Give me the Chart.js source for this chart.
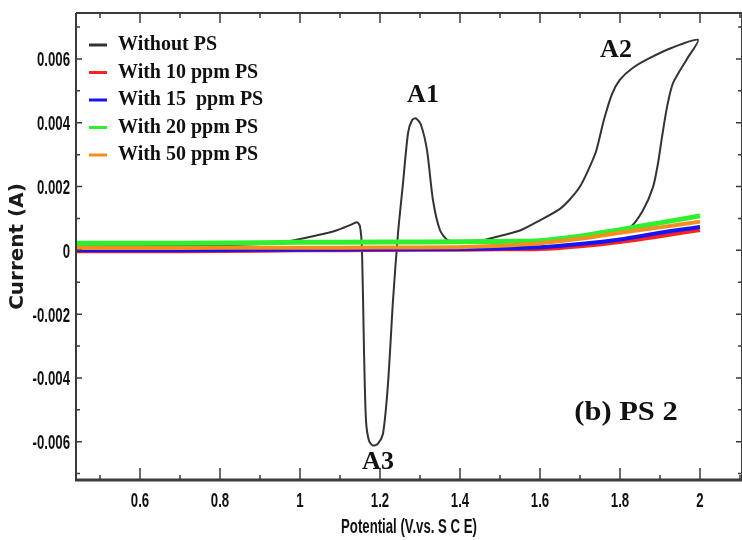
<!DOCTYPE html>
<html>
<head>
<meta charset="utf-8">
<script src="https://cdn.jsdelivr.net/npm/chart.js@4.4.1/dist/chart.umd.min.js"></script>
<style>
  body { margin: 0; background: #fff; }
  #wrap { width: 742px; height: 540px; }
</style>
</head>
<body>
<div id="wrap"><canvas id="cv" width="742" height="540"></canvas></div>
<script>
// series labels + colours
var seriesNames = ["Without PS", "With 10 ppm PS", "With 15  ppm PS", "With 20 ppm PS", "With 50 ppm PS"];
var seriesColors = ["#333333", "#ff2020", "#1414f5", "#2ef02e", "#f78c1e"];

// black CV loop (Without PS)
var blankPotential = [0.44, 0.6, 0.8, 0.9, 0.9575, 1.0425, 1.0925, 1.125, 1.1425, 1.15, 1.155, 1.16, 1.165, 1.1725, 1.1825, 1.195, 1.2075, 1.22, 1.2325, 1.245, 1.2575, 1.27, 1.28, 1.29, 1.3025, 1.3175, 1.3325, 1.35, 1.37, 1.4, 1.45, 1.5, 1.55, 1.6, 1.65, 1.675, 1.7, 1.72, 1.74, 1.76, 1.78, 1.8, 1.83, 1.87, 1.93, 1.995, 1.9675, 1.9325, 1.9175, 1.905, 1.895, 1.8825, 1.8575, 1.825, 1.7825];
var blankCurrent = [0.00012, 0.00013, 0.00016, 0.0002, 0.00025, 0.00047, 0.00063, 0.00079, 0.00088, 0.00075, 0.0, -0.00314, -0.00534, -0.00597, -0.00612, -0.00606, -0.00575, -0.00418, -0.00157, 0.00053, 0.0021, 0.00367, 0.00408, 0.00414, 0.00393, 0.00314, 0.00157, 0.00063, 0.00031, 0.00025, 0.0003, 0.00045, 0.00062, 0.00094, 0.0013, 0.0016, 0.002, 0.0025, 0.0031, 0.0041, 0.0049, 0.00535, 0.0057, 0.006, 0.00635, 0.0066, 0.006, 0.00524, 0.00449, 0.00355, 0.00273, 0.00198, 0.00126, 0.00072, 0.00057];

// PS inhibited curves share the same potentials
var psPotential = [0.44, 0.6, 0.8, 1.0, 1.2, 1.4, 1.5, 1.6, 1.7, 1.8, 1.9, 2.0];
var ps10 = [-0.00003, -0.00003, -0.00002, 0.0, 0.00001, 0.00002, 0.00003, 0.00004, 0.00013, 0.00026, 0.00044, 0.00064];
var ps15 = [0.0, 0.0, 0.00001, 0.00002, 0.00003, 0.00004, 0.00006, 0.0001, 0.0002, 0.00034, 0.00055, 0.00073];
var ps20 = [0.00022, 0.00022, 0.00023, 0.00025, 0.00026, 0.00027, 0.00028, 0.0003, 0.00044, 0.00065, 0.00086, 0.00108];
var ps50 = [0.00007, 0.00007, 0.00008, 0.00008, 0.00009, 0.0001, 0.00014, 0.00022, 0.00036, 0.00055, 0.00072, 0.0009];

// ticks
var xTickValues = [0.6, 0.8, 1, 1.2, 1.4, 1.6, 1.8, 2];
var xTickLabels = ["0.6", "0.8", "1", "1.2", "1.4", "1.6", "1.8", "2"];
var xMinorTicks = [0.5, 0.7, 0.9, 1.1, 1.3, 1.5, 1.7, 1.9, 2.1];
var yTickValues = [-0.006, -0.004, -0.002, 0, 0.002, 0.004, 0.006];
var yTickLabels = ["-0.006", "-0.004", "-0.002", "0", "0.002", "0.004", "0.006"];
var yMinorTicks = [-0.007, -0.005, -0.003, -0.001, 0.001, 0.003, 0.005, 0.007];

// peak labels, in data units
var noteText = ["A1", "A2", "A3", "(b) PS 2"];
var noteX = [1.3075, 1.79, 1.195, 1.815];
var noteY = [0.00487, 0.00628, -0.00666, -0.0051];

const toPoints = (xs, ys) => xs.map((x, i) => ({x: x, y: ys[i]}));

var psSets = [ps10, ps15, ps20, ps50];
var allDatasets = [];

allDatasets.push({
    label: seriesNames[0],
    data: toPoints(blankPotential, blankCurrent),
    borderColor: seriesColors[0],
    backgroundColor: seriesColors[0],
    borderWidth: 2,
    tension: 0.25,
    order: 5
});

for (var k = 0; k < psSets.length; k++) {
    allDatasets.push({
        label: seriesNames[k + 1],
        data: toPoints(psPotential, psSets[k]),
        borderColor: seriesColors[k + 1],
        backgroundColor: seriesColors[k + 1],
        borderWidth: k == 2 ? 5 : 4,
        tension: 0.3,
        order: k == 2 ? 4 : 3 - k
    });
}

// narrow axis text: squeeze a normal sans horizontally
const squeezeText = (ctx, txt, x, y, sx) => {
    ctx.save();
    ctx.translate(x, y);
    ctx.scale(sx, 1);
    ctx.fillText(txt, 0, 0);
    ctx.restore();
};

/* frame, inward ticks, tick labels, legend and peak labels */
var decorPlugin = {
    id: "decor",
    afterDraw: (chart) => {
        var ctx = chart.ctx;
        var a = chart.chartArea;
        var sx = chart.scales.x, sy = chart.scales.y;
        ctx.save();

        // axis lines
        ctx.strokeStyle = "#3a3a3a";
        ctx.lineWidth = 2;
        ctx.beginPath();
        ctx.moveTo(a.left, a.top); ctx.lineTo(a.right, a.top);
        ctx.moveTo(a.left, a.top); ctx.lineTo(a.left, a.bottom);
        ctx.moveTo(a.right, a.top); ctx.lineTo(a.right, a.bottom);
        ctx.stroke();
        ctx.lineWidth = 3;
        ctx.beginPath();
        ctx.moveTo(a.left - 1, a.bottom); ctx.lineTo(a.right, a.bottom);
        ctx.stroke();

        // tick marks pointing into the plot
        ctx.lineWidth = 1.5;
        ctx.beginPath();
        xTickValues.forEach(v => {
            var p = sx.getPixelForValue(v);
            ctx.moveTo(p, a.bottom); ctx.lineTo(p, a.bottom - 12);
            ctx.moveTo(p, a.top); ctx.lineTo(p, a.top + 10);
        });
        xMinorTicks.forEach(v => {
            var p = sx.getPixelForValue(v);
            ctx.moveTo(p, a.bottom); ctx.lineTo(p, a.bottom - 5);
            ctx.moveTo(p, a.top); ctx.lineTo(p, a.top + 5);
        });
        yTickValues.forEach(v => {
            var p = sy.getPixelForValue(v);
            ctx.moveTo(a.left, p); ctx.lineTo(a.left + 6, p);
            ctx.moveTo(a.right, p); ctx.lineTo(a.right - 6, p);
        });
        yMinorTicks.forEach(v => {
            var p = sy.getPixelForValue(v);
            ctx.moveTo(a.left, p); ctx.lineTo(a.left + 4, p);
            ctx.moveTo(a.right, p); ctx.lineTo(a.right - 4, p);
        });
        ctx.stroke();

        // tick labels
        ctx.fillStyle = "#111";
        ctx.font = "bold 20px 'Liberation Sans', Arial, sans-serif";
        ctx.textBaseline = "alphabetic";
        ctx.textAlign = "center";
        xTickValues.forEach((v, i) => {
            squeezeText(ctx, xTickLabels[i], sx.getPixelForValue(v), a.bottom + 27, 0.66);
        });
        ctx.textAlign = "right";
        yTickValues.forEach((v, i) => {
            squeezeText(ctx, yTickLabels[i], a.left - 6, sy.getPixelForValue(v) + 7.5, 0.66);
        });

        // x axis title
        ctx.textAlign = "center";
        squeezeText(ctx, "Potential (V.vs. S C E)", (a.left + a.right) / 2, 533, 0.66);

        // legend, top-left inside the plot
        ctx.font = "bold 20px 'Liberation Serif', 'Times New Roman', serif";
        ctx.textBaseline = "middle";
        ctx.textAlign = "left";
        chart.data.datasets.forEach((ds, i) => {
            var yy = a.top + 32 + i * 27.5;
            ctx.strokeStyle = ds.borderColor;
            ctx.lineWidth = 3;
            ctx.beginPath();
            ctx.moveTo(a.left + 13, yy); ctx.lineTo(a.left + 31, yy);
            ctx.stroke();
            ctx.fillStyle = "#111";
            ctx.fillText(ds.label, a.left + 42, yy);
        });

        // peak labels; the panel tag is a touch wider
        ctx.textAlign = "center";
        ctx.fillStyle = "#111";
        for (var n = 0; n < noteText.length; n++) {
            var px = sx.getPixelForValue(noteX[n]), py = sy.getPixelForValue(noteY[n]);
            if (n == 3) {
                ctx.font = "bold 27px 'Liberation Serif', 'Times New Roman', serif";
                squeezeText(ctx, noteText[n], px, py, 1.13);
            } else {
                ctx.font = "bold 26px 'Liberation Serif', 'Times New Roman', serif";
                ctx.fillText(noteText[n], px, py);
            }
        }
        ctx.restore();
    }
};

var cvChart = new Chart("cv", {
    type: "scatter",
    data: { datasets: allDatasets },
    options: {
        responsive: false,
        animation: false,
        layout: { padding: { top: 13, right: 0, left: 0, bottom: 0 } },
        elements: { point: { radius: 0 } },
        datasets: { scatter: { showLine: true } },
        plugins: {
            legend: { display: false },
            tooltip: { enabled: false }
        },
        scales: {
            x: {
                type: "linear",
                min: 0.44,
                max: 2.105,
                afterFit: (s) => { s.height = 60; },
                grid: { display: false, drawTicks: false },
                border: { display: false },
                ticks: { display: false }
            },
            y: {
                type: "linear",
                min: -0.0072,
                max: 0.00744,
                afterFit: (s) => { s.width = 76; },
                grid: { display: false, drawTicks: false },
                border: { display: false },
                ticks: { display: false },
                title: {
                    display: true,
                    text: "Current (A)",
                    color: "#1a1a1a",
                    font: {family: "'DejaVu Sans', sans-serif", size: 20, weight: "bold"},
                    padding: { top: 6, bottom: 0 }
                }
            }
        }
    },
    plugins: [decorPlugin]
});
</script>
</body>
</html>
